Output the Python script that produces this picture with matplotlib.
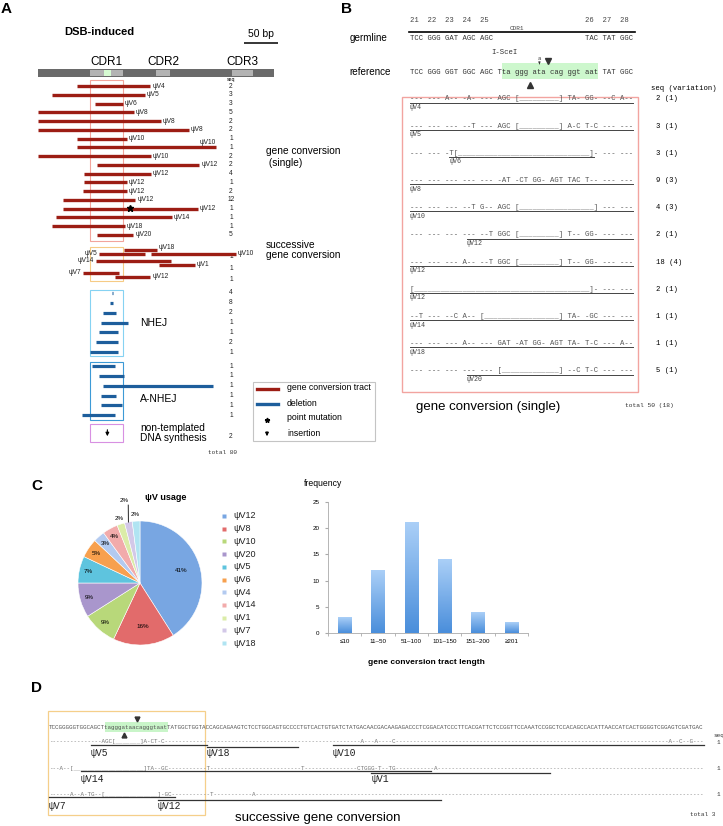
import numpy as np
import matplotlib
matplotlib.use("Agg")
from matplotlib import pyplot as plt
from matplotlib.colors import LinearSegmentedColormap
from matplotlib.patches import Rectangle

plt.rcParams["font.family"] = ["Liberation Sans", "DejaVu Sans"]
MONO = ["Liberation Mono", "DejaVu Sans Mono"]
W, H = 723, 826

RED = "#9c1d14"
BLUE = "#1d5e9c"

# ---------------- panel A data (bp along the V region) ----------------
GENE_LEN = 347
CDR_SPANS = [("CDR1", 76, 125), ("CDR2", 174, 194), ("CDR3", 285, 316)]
ISCEI_SPAN = (97, 107)
SCALE_BP = 50

gc_labels = ["ψV4", "ψV5", "ψV6", "ψV8", "ψV8", "ψV8", "ψV10", "ψV10", "ψV10",
             "ψV12", "ψV12", "ψV12", "ψV12", "ψV12", "ψV12", "ψV14", "ψV18", "ψV20"]
gc_start = [57, 21, 84, 0, 0, 0, 57, 57, 0, 87, 68, 68, 66, 37, 37, 26, 21, 87]
gc_end = [165, 157, 125, 141, 181, 222, 131, 262, 166, 237, 166, 131, 131, 143, 235, 197, 128, 140]
gc_seq = [2, 3, 3, 5, 2, 2, 1, 1, 2, 2, 4, 1, 2, 12, 1, 1, 1, 5]
point_mut_row, point_mut_bp = 14, 135

succ_labels = [["ψV5", "ψV18", "ψV10"], ["ψV14", "ψV1"], ["ψV7", "ψV12"]]
succ_start = [[90, 126, 166], [85, 178], [66, 113]]
succ_end = [[157, 175, 291], [196, 231], [119, 165]]
succ_seq = [1, 1, 1]

nhej_start = [108.5, 106, 96, 93, 90, 85, 76]
nhej_end = [110, 110, 115, 132, 118, 118, 118]
nhej_seq = [4, 8, 2, 1, 1, 2, 1]

anhej_start = [79, 90, 96, 93, 93, 65]
anhej_end = [113, 126, 257, 115, 124, 113]
anhej_seq = [1, 1, 1, 1, 1, 1]

ntds_seq = 2
insertion_bp = 102

# ---------------- panel B data ----------------
b_codons = "21  22  23  24  25".ljust(40) + "26  27  28"
b_germline = "TCC GGG GAT AGC AGC".ljust(40) + "TAC TAT GGC"
b_reference = "TCC GGG GGT GGC AGC Tta ggg ata cag ggt aat TAT GGC"
b_rows = [
    "--- --- A-- -A- --- AGC [_________] TA- GG- --C A--",
    "--- --- --- --T --- AGC [_________] A-C T-C --- ---",
    "--- --- -T[______________________________]- --- ---",
    "--- --- --- --- --- -AT -CT GG- AGT TAC T-- --- ---",
    "--- --- --- --T G-- AGC [_________________] --- ---",
    "--- --- --- --- --T GGC [_________] T-- GG- --- ---",
    "--- --- --- A-- --T GGC [_________] T-- GG- --- ---",
    "[________________________________________]- --- ---",
    "--T --- --C A-- [_________________] TA- -GC --- ---",
    "--- --- --- A-- --- GAT -AT GG- AGT TA- T-C --- A--",
    "--- --- --- --- --- [_____________] --C T-C --- ---",
]
b_donor = ["ψV4", "ψV5", "ψV6", "ψV8", "ψV10", "ψV12", "ψV12", "ψV12", "ψV14", "ψV18", "ψV20"]
b_tract = [(0, 51), (0, 51), (9, 42), (0, 51), (0, 51), (13, 51), (0, 51), (0, 51), (0, 51), (0, 51), (13, 51)]
b_seq = [2, 3, 3, 9, 4, 2, 18, 2, 1, 1, 5]
b_var = [1, 1, 1, 3, 3, 1, 4, 1, 1, 1, 1]

# ---------------- panel C data ----------------
usage_names = ["ψV12", "ψV8", "ψV10", "ψV20", "ψV5", "ψV6", "ψV4", "ψV14", "ψV1", "ψV7", "ψV18"]
usage_pct = [41, 16, 9, 9, 7, 5, 3, 4, 2, 2, 2]
usage_colors = ["#78a6e2", "#e26b6b", "#b8d87a", "#a996cc", "#5ec4de", "#f7a04e",
                "#b3caf0", "#f2abab", "#dbeca8", "#d3c8e8", "#b0e4f2"]
tract_bins = ["≤10", "11–50", "51–100", "101–150", "151–200", "≥201"]
tract_freq = [3, 12, 21, 14, 4, 2]

# ---------------- panel D data ----------------
D_REF = ("TCCGGGGGTGGCAGCT" + "tagggataacagggtaat"
         + "TATGGCTGGTACCAGCAGAAGTCTCCTGGCAGTGCCCCTGTCACTGTGATCTATGACAACGACAAG"
         + "AGACCCTCGGACATCCCTTCACGATTCTCCGGTTCCAAATCCGGCTCCACAGCCACATTAACCATCAC"
         + "TGGGGTCGGAGTCGATGAC")
D_SITE = (16, 34)
d_marks = [
    [(15, "AGC["), (19, "_______"), (26, "]A-CT-C"), (89, "A---A----C"), (177, "A--C--G---")],
    [(3, "A--["), (7, "_" * 20), (27, "]TA--GC"), (45, "T"), (72, "T"), (88, "CTGGG-T--TG"), (110, "A")],
    [(6, "A--A-TG--["), (16, "_" * 15), (31, "]-GC"), (46, "T"), (58, "A")],
]
d_labels = [["ψV5", "ψV18", "ψV10"], ["ψV14", "ψV1"], ["ψV7", "ψV12"]]
d_start = [[12, 45, 81], [9, 92], [0, 31]]
d_end = [[45, 71, 187], [109, 143], [36, 112]]
d_seq = [1, 1, 1]


def full_axes(fig, x0_px, px_per_unit):
    ax = fig.add_axes([0, 0, 1, 1])
    ax.set_xlim(-x0_px / px_per_unit, (W - x0_px) / px_per_unit)
    ax.set_ylim(H, 0)
    ax.axis("off")
    return ax


fig = plt.figure(figsize=(W / 100, H / 100), dpi=100)
ov = full_axes(fig, 0, 1.0)

# panel letters
for letter, x, y in [("A", 6, 9), ("B", 346, 9), ("C", 37, 486), ("D", 37, 688)]:
    ov.text(x, y, letter, fontsize=11, fontweight="bold", ha="center", va="center")

# ======================= panel A =======================
axA = full_axes(fig, 38, 0.68)
axA.add_patch(Rectangle((0, 69), GENE_LEN, 8, facecolor="#6a6a6a", edgecolor="none"))
for name, s, e in CDR_SPANS:
    axA.add_patch(Rectangle((s, 70.3), e - s, 5.4, facecolor="#b3b3b3", edgecolor="none"))
    axA.text((s + e) / 2, 62, name, fontsize=8.5, ha="center", va="center")
axA.add_patch(Rectangle((ISCEI_SPAN[0], 70.3), ISCEI_SPAN[1] - ISCEI_SPAN[0], 5.4,
                        facecolor="#d6fbd2", edgecolor="none"))
axA.hlines(43, 303, 303 + SCALE_BP, color="black", lw=1.1)
axA.text(303 + SCALE_BP / 2, 34, f"{SCALE_BP} bp", fontsize=7.5, ha="center", va="center")
ov.text(64, 32, "DSB-induced", fontsize=8, fontweight="bold", ha="left", va="center")

cdr1_s, cdr1_e = CDR_SPANS[0][1], CDR_SPANS[0][2]
COUNT_X = 231
lab_kw = dict(fontsize=4.8, va="center", color="#222222")
cnt_kw = dict(fontsize=4.8, ha="center", va="center", color="#222222")

ov.text(COUNT_X, 79, "seq", fontsize=3.8, ha="center", va="center")
gc_y = 86 + 8.76 * np.arange(len(gc_start))
axA.hlines(gc_y, gc_start, gc_end, color=RED, lw=2.4, zorder=3)
for i, (y, e, lab, n) in enumerate(zip(gc_y, gc_end, gc_labels, gc_seq)):
    if e > 250:
        axA.text(e, y - 5, lab, ha="right", **lab_kw)
    else:
        axA.text(e + 3, y, lab, ha="left", **lab_kw)
    ov.text(COUNT_X, y, str(n), **cnt_kw)
axA.plot(point_mut_bp, gc_y[point_mut_row] - 1, marker="*", ms=5, color="black", zorder=4)
axA.add_patch(Rectangle((cdr1_s, 80), cdr1_e - cdr1_s, 161, fill=False, edgecolor="#f2a49c", lw=0.8))
ov.text(266, 156.5, "gene conversion\n (single)", fontsize=7.3, ha="left", va="center", linespacing=1.25)

# successive gene conversion
for r, (labs, ss, ee, n) in enumerate(zip(succ_labels, succ_start, succ_end, succ_seq)):
    base = 251.5 + 11.5 * r
    k = len(labs)
    for i, (lab, s, e) in enumerate(zip(labs, ss, ee)):
        y = base + (2 if (k - 1 - i) % 2 == 0 else -2)
        axA.hlines(y, s, e, color=RED, lw=2.4, zorder=3)
        if i == 0:
            axA.text(s - 2, y, lab, ha="right", **lab_kw)
        else:
            axA.text(e + 3, y - (2 if (k - 1 - i) % 2 else 0), lab, ha="left", **lab_kw)
    ov.text(COUNT_X, base + 5, str(n), **cnt_kw)
axA.add_patch(Rectangle((cdr1_s, 247), cdr1_e - cdr1_s, 34, fill=False, edgecolor="#f6cb85", lw=0.8))
ov.text(266, 250, "successive\ngene conversion", fontsize=7.3, ha="left", va="center", linespacing=1.0)

# NHEJ
nh_y = 293 + 9.85 * np.arange(len(nhej_start))
axA.hlines(nh_y, nhej_start, nhej_end, color=BLUE, lw=2.3, zorder=3)
for y, n in zip(nh_y, nhej_seq):
    ov.text(COUNT_X, y, str(n), **cnt_kw)
axA.add_patch(Rectangle((cdr1_s, 290), cdr1_e - cdr1_s, 66, fill=False, edgecolor="#86d2f2", lw=0.8))
ov.text(140, 323, "NHEJ", fontsize=7.5, ha="left", va="center")

# A-NHEJ
an_y = 366 + 9.85 * np.arange(len(anhej_start))
axA.hlines(an_y, anhej_start, anhej_end, color=BLUE, lw=2.3, zorder=3)
for y, n in zip(an_y, anhej_seq):
    ov.text(COUNT_X, y, str(n), **cnt_kw)
axA.add_patch(Rectangle((cdr1_s, 362), cdr1_e - cdr1_s, 58, fill=False, edgecolor="#3d9ad6", lw=0.8))
ov.text(140, 399, "A-NHEJ", fontsize=7.5, ha="left", va="center")

# non-templated synthesis
axA.add_patch(Rectangle((cdr1_s, 424), cdr1_e - cdr1_s, 18, fill=False, edgecolor="#d890e2", lw=0.8))
axA.annotate("", xy=(insertion_bp, 439), xytext=(insertion_bp, 427),
             arrowprops=dict(arrowstyle="-|>", color="black", lw=0.8, mutation_scale=5))
ov.text(140, 433, "non-templated\nDNA synthesis", fontsize=7.3, ha="left", va="center", linespacing=1.0)
ov.text(COUNT_X, 436, str(ntds_seq), **cnt_kw)

total_a = sum(gc_seq) + sum(succ_seq) + sum(nhej_seq) + sum(anhej_seq) + ntds_seq
ov.text(208, 452, f"total {total_a}", family=MONO, fontsize=4.3, ha="left", va="center", color="#333333")

# legend (drawn by hand)
ov.add_patch(Rectangle((253, 382), 122, 59, fill=False, edgecolor="#c4c4c4", lw=0.8))
ov.plot([257, 278], [389, 389], color=RED, lw=2.4)
ov.plot([257, 278], [404, 404], color=BLUE, lw=2.4)
ov.plot(267, 419.5, marker="*", ms=3.5, color="black")
ov.annotate("", xy=(267, 439), xytext=(267, 429),
            arrowprops=dict(arrowstyle="-|>", color="black", lw=0.8, mutation_scale=5))
for y, t in zip([388, 403, 418, 433], ["gene conversion tract", "deletion", "point mutation", "insertion"]):
    ov.text(287, y, t, fontsize=6.3, ha="left", va="center")

# ======================= panel B =======================
BX = 410
cw = 223 / 51
B_FS = cw / 0.6 * 72 / 100
mono_b = dict(family=MONO, fontsize=B_FS, ha="left", va="center")

ov.text(350, 38, "germline", fontsize=7.1, ha="left", va="center")
ov.text(349, 72, "reference", fontsize=7.1, ha="left", va="center")
ov.text(BX, 21, b_codons, color="#444444", **mono_b)
ov.text(BX + 24.5 * cw, 28, "CDR1", family=MONO, fontsize=4.3, ha="center", va="center", color="#444444")
ov.plot([BX - 1, BX + 51.5 * cw], [32, 32], color="black", lw=1.2)
ov.text(BX, 38.5, b_germline, color="#333333", **mono_b)
ov.text(BX + 21.5 * cw, 52, "I-SceI", family=MONO, fontsize=B_FS, ha="center", va="center", color="#333333")
ov.add_patch(Rectangle((BX + 21 * cw, 63), 22 * cw, 16, facecolor="#cdf7cd", edgecolor="none"))
ov.text(BX, 72, b_reference, color="#333333", **mono_b)
ov.plot(BX + 31.6 * cw, 61, marker="v", ms=5, color="#333333")
ov.plot(BX + 27.5 * cw, 85, marker="^", ms=5, color="#333333")
ov.text(BX + 29.6 * cw, 58, "a", family=MONO, fontsize=4, ha="center", va="center", color="#333333")
ov.annotate("", xy=(BX + 29.6 * cw, 67), xytext=(BX + 29.6 * cw, 61),
            arrowprops=dict(arrowstyle="-|>", color="#333333", lw=0.5, mutation_scale=3))

ov.text(651, 89, "seq (variation)", **mono_b)
ov.add_patch(Rectangle((402, 97), 236, 295, fill=False, edgecolor="#f2a4a0", lw=1.0))
for i, (row, donor, (s, e), n, v) in enumerate(zip(b_rows, b_donor, b_tract, b_seq, b_var)):
    y = 99 + 27.2 * i
    ov.text(BX, y, row, color="#555555", **mono_b)
    ov.plot([BX + s * cw, BX + e * cw], [y + 3.6, y + 3.6], color="#444444", lw=0.7)
    ov.text(BX + s * cw, y + 8.5, donor, family=MONO, fontsize=4.8, ha="left", va="center", color="#444444")
    ov.text(656, y, f"{n} ({v})", **mono_b)
ov.text(416, 407, "gene conversion (single)", fontsize=9.5, ha="left", va="center")
ov.text(625, 405, f"total {sum(b_seq)} ({sum(b_var)})", family=MONO, fontsize=4.5,
        ha="left", va="center", color="#333333")

# ======================= panel C =======================
axP = fig.add_axes([78 / W, 1 - 645 / H, 124 / W, 124 / H])
wedges, _ = axP.pie(usage_pct, colors=usage_colors, startangle=90, counterclock=False,
                    wedgeprops=dict(edgecolor="white", linewidth=0.4))
axP.set_xlim(-1, 1)
axP.set_ylim(-1, 1)
small_i = 0
for w, p in zip(wedges, usage_pct):
    ang = np.deg2rad((w.theta1 + w.theta2) / 2)
    c, s = np.cos(ang), np.sin(ang)
    if p >= 10:
        r = 0.7
    elif p > 2:
        r = 0.85
    else:
        r = 1.1
        if small_i == 1:
            r = 1.36
            axP.plot([1.0 * c, 1.28 * c + 0.05], [1.0 * s, 1.28 * s], color="black", lw=0.6, clip_on=False)
        small_i += 1
    axP.text(r * c, r * s, f"{p}%", fontsize=4.5, ha="center", va="center")

ov.text(166, 498, "ψV usage", fontsize=6.5, fontweight="bold", ha="center", va="center")
for i, (name, col) in enumerate(zip(usage_names, usage_colors)):
    y = 516 + 12.7 * i
    ov.plot(224, y, marker="s", ms=2.3, color=col, mec="none")
    ov.text(233, y, name, fontsize=6.5, ha="left", va="center", color="#222222")

axH = fig.add_axes([328 / W, 1 - 633 / H, 200 / W, 131 / H])
bar_cmap = LinearSegmentedColormap.from_list("bar", ["#4a8edb", "#aacff7"])
grad = np.linspace(0, 1, 64).reshape(-1, 1)
for i, v in enumerate(tract_freq):
    axH.imshow(grad, extent=(i - 0.2, i + 0.2, 0, v), origin="lower", cmap=bar_cmap,
               aspect="auto", zorder=2)
axH.set_xlim(-0.5, len(tract_freq) - 0.5)
axH.set_ylim(0, 25)
axH.set_yticks(range(0, 26, 5))
axH.set_xticks(range(len(tract_bins)))
axH.set_xticklabels(tract_bins)
axH.set_xticks(np.arange(-0.5, len(tract_bins)), minor=True)
axH.tick_params(axis="x", which="major", length=0, labelsize=4.5, pad=4)
axH.tick_params(axis="x", which="minor", length=2, color="#aaaaaa")
axH.tick_params(axis="y", length=2, color="#aaaaaa", labelsize=4.5, pad=4)
for side in ["top", "right"]:
    axH.spines[side].set_visible(False)
for side in ["left", "bottom"]:
    axH.spines[side].set_color("#aaaaaa")
    axH.spines[side].set_linewidth(0.6)
axH.set_facecolor("none")
ov.text(323, 483, "frequency", fontsize=6.2, ha="center", va="center")
ov.text(426, 662, "gene conversion tract length", fontsize=6, fontweight="bold", ha="center", va="center")

# ======================= panel D =======================
N = len(D_REF)
D_X0 = 49
cwD = 655 / N
axD = full_axes(fig, D_X0, cwD)
D_FS = cwD / 0.6 * 72 / 100
mono_d = dict(family=MONO, fontsize=D_FS, ha="left", va="center")

ov.add_patch(Rectangle((48, 711), 157, 104, fill=False, edgecolor="#f5cf8a", lw=0.9))
axD.add_patch(Rectangle((D_SITE[0], 722), D_SITE[1] - D_SITE[0], 10, facecolor="#c9f5c9", edgecolor="none"))
axD.text(0, 727, D_REF, color="#555555", **mono_d)
axD.plot(25.1, 719, marker="v", ms=3.5, color="#333333")
axD.plot(21.4, 734.5, marker="^", ms=3.5, color="#333333")


def build_row(marks):
    row = ["-"] * N
    for pos, seg in marks:
        row[pos:pos + len(seg)] = list(seg)
    return "".join(row[:N])


ov.text(713, 736, "seq", family=MONO, fontsize=4.3, ha="left", va="center", color="#333333")
for r, (marks, labs, ss, ee, n) in enumerate(zip(d_marks, d_labels, d_start, d_end, d_seq)):
    y = 742 + 26.3 * r
    axD.text(0, y, build_row(marks), color="#777777", **mono_d)
    for i, (lab, s, e) in enumerate(zip(labs, ss, ee)):
        yl = y + 2.5 + 2.5 * (i % 2)
        axD.plot([s, e], [yl, yl], color="#333333", lw=0.9)
        axD.text(s, y + 11, lab, family=MONO, fontsize=7, ha="left", va="center", color="#222222")
    ov.text(717, y, str(n), family=MONO, fontsize=4.3, ha="left", va="center", color="#333333")
ov.text(690, 815, f"total {sum(d_seq)}", family=MONO, fontsize=4.3, ha="left", va="center", color="#333333")
ov.text(318, 818, "successive gene conversion", fontsize=9.5, ha="center", va="center")

fig.savefig("out.png", dpi=100, facecolor="white")
